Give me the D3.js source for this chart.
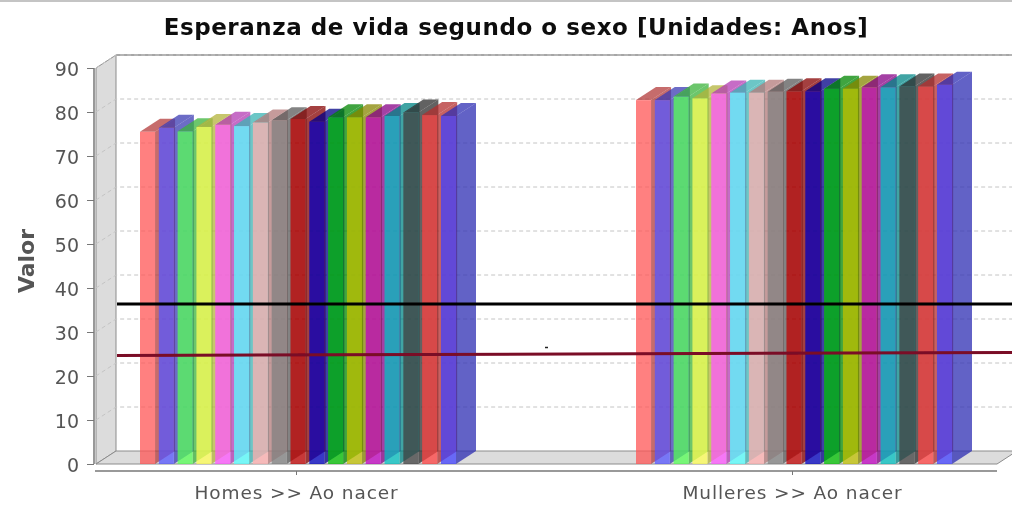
<!DOCTYPE html>
<html><head><meta charset="utf-8">
<script src="https://cdn.jsdelivr.net/npm/d3@7"></script>
<style>html,body{margin:0;padding:0;background:#fff;overflow:hidden}svg{display:block}text{font-family:"DejaVu Sans",sans-serif}</style>
</head><body><svg id="c" width="1012" height="505"></svg>
<script>
const title = "Esperanza de vida segundo o sexo [Unidades: Anos]";
const yTitle = "Valor";
const categories = ["Homes >> Ao nacer", "Mulleres >> Ao nacer"];
const yTicks = [0,10,20,30,40,50,60,70,80,90];
const seriesIdx = d3.range(17);
const colors = ["#FF5555","#5555FF","#55FF55","#FFFF55","#FF55FF","#55FFFF","#FFAFAF","#808080","#C00000","#0000C0","#00C000","#C0C000","#C000C0","#00C0C0","#404040","#FF4040","#4040FF"];
const homes = [75.5,76.4,75.6,76.6,77.1,76.8,77.6,78.1,78.4,77.8,78.8,78.8,78.8,79.1,79.9,79.3,79.1];
const mulleres = [82.7,82.7,83.5,83.1,84.2,84.4,84.4,84.6,84.7,84.7,85.3,85.3,85.6,85.6,85.8,85.8,86.2];
const blackLine = [33.4,33.4];
const redLine = [21.7,22.4];

const W=1012,H=505, DX=20, DY=13;
const L=96,R=997,B=464,T=68;
const svg=d3.select("#c");
const defs=svg.append("defs");
defs.append("filter").attr("id","soft").append("feGaussianBlur").attr("stdDeviation",0.45);
const root=svg.append("g").attr("filter","url(#soft)");
root.append("rect").attr("width",W).attr("height",H).attr("fill","#fff");
const y=d3.scaleLinear().domain([0,90]).range([B,T]);
const xCat=d3.scalePoint().domain(categories).range([296,792]);
const xSer=d3.scaleBand().domain(seriesIdx).range([-156,160]).paddingInner(0.2);
const darker=c=>{const o=d3.rgb(c);return d3.rgb(o.r*.7,o.g*.7,o.b*.7).formatHex();};
const pts=a=>a.map(p=>p.join(",")).join(" ");

// image edge
root.append("line").attr("x1",0).attr("x2",W).attr("y1",1).attr("y2",1).attr("stroke","#b0b0b0").attr("stroke-width",1.5);

// walls
root.append("polygon").attr("points",pts([[L,B],[L+DX,B-DY],[L+DX,T-DY],[L,T]])).attr("fill","#dcdcdc").attr("stroke","#8c8c8c");
root.append("polygon").attr("points",pts([[L,B],[L+DX,B-DY],[R+DX,B-DY],[R,B]])).attr("fill","#dcdcdc").attr("stroke","#8c8c8c");
root.append("line").attr("x1",L+DX).attr("x2",W).attr("y1",T-DY).attr("y2",T-DY).attr("stroke","#888").attr("stroke-width",1.5);

// grid
const grid=root.append("g").attr("fill","none").attr("stroke","#c4c4c4").attr("stroke-dasharray","4,3");
yTicks.filter(d=>d>0).forEach(d=>{
  grid.append("polyline").attr("points",pts([[L,y(d)],[L+DX,y(d)-DY],[W,y(d)-DY]]));
});

// bars
const bars=root.append("g");
[homes,mulleres].forEach((vals,c)=>{
  seriesIdx.forEach(i=>{
    const x0=xCat(categories[c])+xSer(i), w=xSer.bandwidth(), top=y(vals[i]);
    const g=bars.append("g").attr("fill-opacity",.75);
    g.append("polygon").attr("points",pts([[x0+w,B],[x0+w+DX,B-DY],[x0+w+DX,top-DY],[x0+w,top]])).attr("fill",darker(colors[i]));
    g.append("polygon").attr("points",pts([[x0,top],[x0+DX,top-DY],[x0+w+DX,top-DY],[x0+w,top]])).attr("fill",darker(colors[i]));
    g.append("rect").attr("x",x0).attr("y",top).attr("width",w).attr("height",B-top).attr("fill",colors[i]);
  });
});

// lines
const yBack=v=>y(v)-DY;
const lineX=d3.scaleLinear().domain([0,1]).range([L+DX+1,W]);
const lineGen=d3.line().x((d,i)=>lineX(i)).y(d=>yBack(d));
root.append("path").attr("d",lineGen(blackLine)).attr("fill","none").attr("stroke","#000").attr("stroke-width",3);
root.append("path").attr("d",lineGen(redLine)).attr("fill","none").attr("stroke","#7a0a26").attr("stroke-width",3);
root.append("line").attr("x1",545).attr("x2",548).attr("y1",347.5).attr("y2",347.5).attr("stroke","#222").attr("stroke-width",1.5);

// axes
const ax=root.append("g").attr("transform","translate(94,1)").call(d3.axisLeft(y).tickValues(yTicks).tickSize(7).tickPadding(8));
ax.select(".domain").attr("stroke","#777").attr("stroke-width",1.5).attr("d",`M0,${T-1}V${B-1}`);
ax.selectAll(".tick line").attr("stroke","#777").attr("transform","translate(0,-1)");
ax.selectAll("text").attr("font-size",19).attr("fill","#555").attr("font-family",'"DejaVu Sans",sans-serif');
const bx=root.append("g").attr("transform","translate(0,471)").call(d3.axisBottom(xCat).tickSize(4).tickPadding(7));
bx.select(".domain").attr("stroke","#777").attr("stroke-width",1.5).attr("d",`M95,0H${R}`);
bx.selectAll(".tick line").attr("stroke","#777");
bx.selectAll("text").attr("font-size",18.5).attr("fill","#555").attr("font-family",'"DejaVu Sans",sans-serif').attr("letter-spacing",.9).attr("dy","0.9em");

root.append("text").attr("x",516).attr("y",35).attr("text-anchor","middle").attr("font-size",23).attr("font-weight","bold").attr("fill","#111").attr("letter-spacing",.55).text(title);
root.append("text").attr("transform","translate(34,261) rotate(-90)").attr("text-anchor","middle").attr("font-size",22).attr("font-weight","bold").attr("fill","#555").text(yTitle);
</script></body></html>
